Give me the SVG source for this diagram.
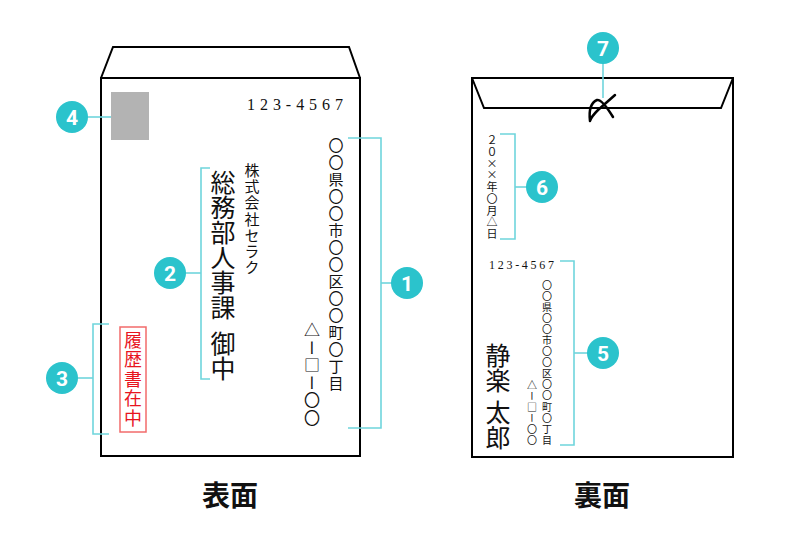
<svg xmlns="http://www.w3.org/2000/svg" width="800" height="540" viewBox="0 0 800 540">
<style>
.env{fill:none;stroke:#000;stroke-width:2}
.br{fill:none;stroke:#6fd5dc;stroke-width:1.6}
.bub{fill:#2bc3cc}
.num{fill:#fff;font-family:Roboto,"Noto Sans",sans-serif;font-weight:bold;font-size:21px;text-anchor:middle}
.v{font-family:"Noto Sans CJK JP",sans-serif;fill:#111;writing-mode:vertical-rl}
.red{fill:#e8141e}
.lbl{font-family:"Noto Sans CJK JP",sans-serif;font-weight:bold;font-size:28px;text-anchor:middle;fill:#111}
.zip{font-family:"Liberation Serif",serif;fill:#111}
</style>
<rect width="800" height="540" fill="#fff"/>

<g id="front">
<rect class="env" x="101" y="78" width="259" height="378"/>
<polyline class="env" points="101,78 113,47 349,47 360,78"/>
<rect x="111" y="92" width="38" height="48" fill="#b3b3b3"/>
<text class="zip" x="247" y="110" font-size="16" textLength="96" lengthAdjust="spacing">123-4567</text>
<text id="address-front" class="v" x="336" y="137.5" font-size="15" letter-spacing="2">〇〇県〇〇市〇〇区〇〇町〇丁目</text>
<text id="banchi-front" class="v" x="312" y="322" font-size="16" letter-spacing="1.5">△ー□ー〇〇</text>
<text id="company" class="v" x="252" y="162.5" font-size="15" letter-spacing="1.3">株式会社セラク</text>
<text id="recipient1" class="v" x="223" y="170" font-size="25">総務部人事課</text>
<text id="recipient2" class="v" x="223" y="331" font-size="25">御中</text>
<g id="stamp-red">
<rect x="120" y="327" width="26" height="105" fill="none" stroke="#f26b6b" stroke-width="1.5"/>
<text class="v red" x="133" y="331" font-size="18" letter-spacing="1.5">履歴書在中</text>
</g>
</g>

<g id="back">
<rect class="env" x="472" y="78" width="261" height="379"/>
<polyline class="env" points="472,78 484,108 721,108 733,78"/>
<path d="M615,95 L598,110 Q591,117 590,121 Q588,104 597,100 Q602,99 613,117" fill="none" stroke="#000" stroke-width="2.5" stroke-linecap="round" stroke-linejoin="round"/>
<text class="zip" x="489" y="269" font-size="12" textLength="65" lengthAdjust="spacing">123-4567</text>
<text id="date" class="v" x="492" y="134.5" font-size="11" letter-spacing="0.75">２０××年〇月△日</text>
<text id="address-back" class="v" x="547" y="280" font-size="10" letter-spacing="1.07">〇〇県〇〇市〇〇区〇〇町〇丁目</text>
<text id="banchi-back" class="v" x="532" y="380" font-size="10" letter-spacing="1">△ー□ー〇〇</text>
<text id="sender1" class="v" x="498" y="342.5" font-size="25">静楽</text>
<text id="sender2" class="v" x="498" y="399.5" font-size="25">太郎</text>
</g>

<g id="connectors">
<polyline class="br" points="348,138 381,138 381,428 348,428"/>
<line class="br" x1="381" y1="283" x2="392" y2="283"/>
<polyline class="br" points="210,168 201,168 201,379 210,379"/>
<line class="br" x1="186" y1="273" x2="201" y2="273"/>
<polyline class="br" points="109,324 93,324 93,434 109,434"/>
<line class="br" x1="78" y1="378" x2="93" y2="378"/>
<line class="br" x1="88" y1="117" x2="111" y2="117"/>
<polyline class="br" points="560,261 574,261 574,445 560,445"/>
<line class="br" x1="574" y1="353" x2="588" y2="353"/>
<polyline class="br" points="500,134 515,134 515,239 500,239"/>
<line class="br" x1="515" y1="187" x2="527" y2="187"/>
<line class="br" x1="603" y1="63" x2="603" y2="98"/>
</g>

<g id="n1"><circle class="bub" cx="407" cy="283" r="16"/><text class="num" x="407" y="291">1</text></g>
<g id="n2"><circle class="bub" cx="170" cy="273" r="16"/><text class="num" x="170" y="281">2</text></g>
<g id="n3"><circle class="bub" cx="62" cy="378" r="16"/><text class="num" x="62" y="386">3</text></g>
<g id="n4"><circle class="bub" cx="72" cy="117" r="16"/><text class="num" x="72" y="125">4</text></g>
<g id="n5"><circle class="bub" cx="603" cy="353" r="16"/><text class="num" x="603" y="361">5</text></g>
<g id="n6"><circle class="bub" cx="542" cy="187" r="16"/><text class="num" x="542" y="195">6</text></g>
<g id="n7"><circle class="bub" cx="603" cy="48" r="16"/><text class="num" x="603" y="56">7</text></g>

<text class="lbl" x="230" y="506">表面</text>
<text class="lbl" x="602" y="506">裏面</text>
</svg>
